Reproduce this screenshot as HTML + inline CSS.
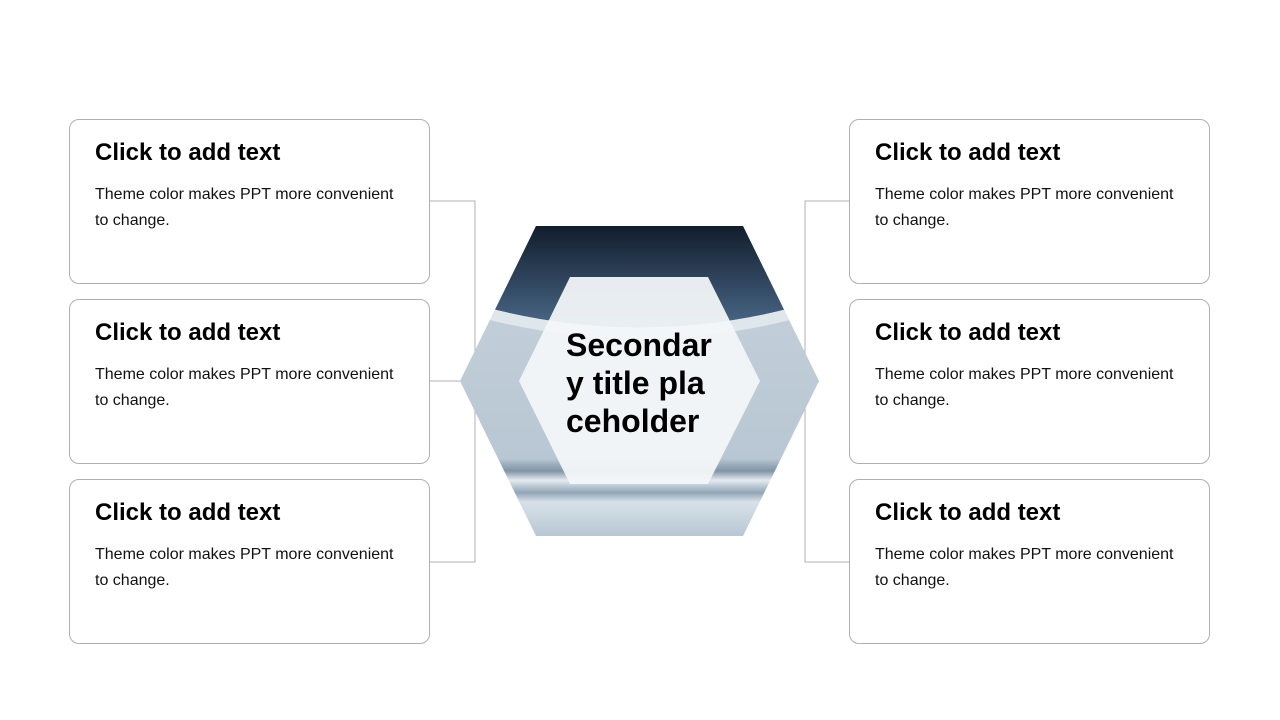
<!DOCTYPE html>
<html><head><style>
body{margin:0;width:1280px;height:720px;background:#fff;position:relative;overflow:hidden;font-family:"Liberation Sans",sans-serif}
.b{position:absolute;width:361px;height:165px;border:1px solid #b0b0b0;border-radius:10px;box-sizing:border-box;background:#fff}
.b h{position:absolute;left:25px;top:19px;font-size:24px;font-weight:bold;color:#000}
.b p{position:absolute;left:25px;top:62px;margin:0;font-size:16px;line-height:25.5px;color:#111;width:305px}
</style></head><body>
<svg width="1280" height="720" style="position:absolute;left:0;top:0">
<defs>
<linearGradient id="d" x1="0" y1="0" x2="0" y2="1">
<stop offset="0" stop-color="#111d2c"/><stop offset="1" stop-color="#4a6888"/>
</linearGradient>
<linearGradient id="g" x1="0" y1="0" x2="0" y2="1">
<stop offset="0" stop-color="#c8d3dc"/><stop offset="0.75" stop-color="#b8c7d3"/><stop offset="0.79" stop-color="#7f94a6"/><stop offset="0.82" stop-color="#e4ebf0"/><stop offset="0.86" stop-color="#90a5b6"/><stop offset="0.89" stop-color="#d8e1e8"/><stop offset="1" stop-color="#b7c7d3"/>
</linearGradient>
<clipPath id="h"><polygon points="536,226 743,226 819,381 743,536 536,536 460,381"/></clipPath>
</defs>
<g stroke="#b0b0b0" fill="none" stroke-width="1">
<path d="M430 201H475V562H430M430 381H460"/>
<path d="M849 201H805V562H849M805 381H819"/>
</g>
<g clip-path="url(#h)">
<rect x="460" y="226" width="360" height="310" fill="url(#g)"/>
<path d="M460 226H820V300Q640 355 460 300Z" fill="url(#d)"/>
<path d="M460 300Q640 355 820 300V312Q640 365 460 312Z" fill="#dfe6ec"/>
</g>
<polygon points="570,277 708,277 760,381 708,484 570,484 519,381" fill="#f3f6f9" opacity="0.94"/>
<text x="566" y="356" font-size="32" font-weight="bold" fill="#000" font-family="Liberation Sans">Secondar</text>
<text x="566" y="394" font-size="32" font-weight="bold" fill="#000" font-family="Liberation Sans">y title pla</text>
<text x="566" y="432" font-size="32" font-weight="bold" fill="#000" font-family="Liberation Sans">ceholder</text>
</svg>
<div class="b" style="left:69px;top:119px"><h>Click to add text</h><p>Theme color makes PPT more convenient to change.</p></div>
<div class="b" style="left:69px;top:299px"><h>Click to add text</h><p>Theme color makes PPT more convenient to change.</p></div>
<div class="b" style="left:69px;top:479px"><h>Click to add text</h><p>Theme color makes PPT more convenient to change.</p></div>
<div class="b" style="left:849px;top:119px"><h>Click to add text</h><p>Theme color makes PPT more convenient to change.</p></div>
<div class="b" style="left:849px;top:299px"><h>Click to add text</h><p>Theme color makes PPT more convenient to change.</p></div>
<div class="b" style="left:849px;top:479px"><h>Click to add text</h><p>Theme color makes PPT more convenient to change.</p></div>
</body></html>
